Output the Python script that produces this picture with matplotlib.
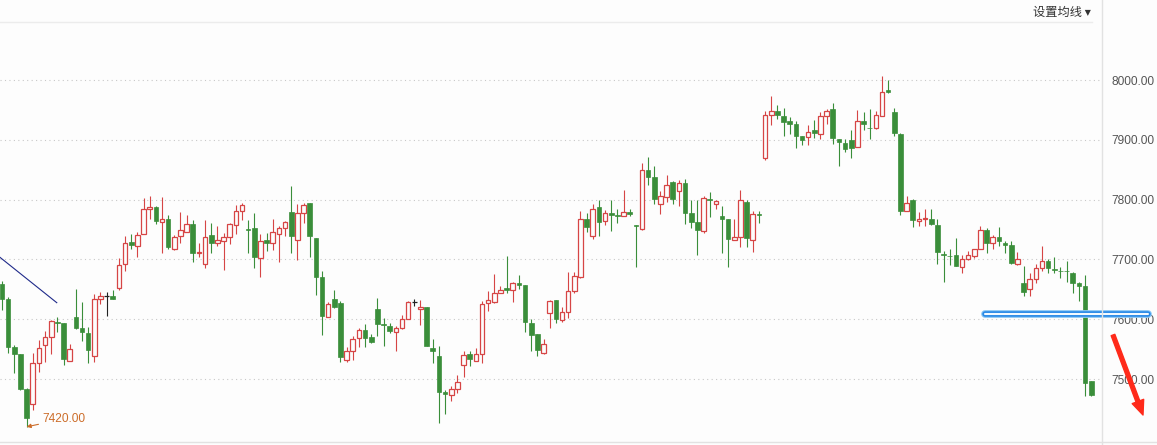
import matplotlib
matplotlib.use('Agg')
import matplotlib.pyplot as plt
from matplotlib.lines import Line2D

# daily OHLC
opens = [7659, 7634, 7553, 7541, 7484, 7459, 7527, 7557, 7570, 7596,
         7593, 7530, 7604, 7586, 7577, 7538, 7633, 7638, 7639, 7653,
         7692, 7729, 7723, 7742, 7785, 7788, 7763, 7768, 7718, 7739,
         7746, 7760, 7711, 7692, 7741, 7727, 7731, 7737, 7758, 7781,
         7751, 7752, 7703, 7732, 7728, 7742, 7753, 7780, 7732, 7778,
         7794, 7735, 7670, 7603, 7634, 7627, 7531, 7547, 7569, 7582,
         7571, 7617, 7592, 7589, 7579, 7586, 7601, 7628, 7617, 7620,
         7552, 7539, 7478, 7473, 7484, 7523, 7542, 7530, 7542, 7627,
         7629, 7643, 7652, 7648, 7660, 7657, 7593, 7576, 7544, 7610,
         7632, 7598, 7612, 7647, 7671, 7768, 7739, 7788, 7764, 7777,
         7774, 7773, 7779, 7757, 7751, 7850, 7837, 7793, 7804, 7829,
         7814, 7828, 7777, 7762, 7748, 7801, 7793, 7773, 7768, 7733,
         7737, 7796, 7733, 7776, 7869, 7942, 7949, 7939, 7931, 7926,
         7906, 7905, 7917, 7910, 7940, 7951, 7902, 7895, 7900, 7888,
         7931, 7920, 7919, 7940, 7983, 7947, 7909, 7781, 7800, 7764,
         7768, 7767, 7757, 7709, 7706, 7707, 7688, 7700, 7706, 7718,
         7750, 7727, 7737, 7728, 7724, 7693, 7660, 7650, 7668, 7685,
         7697, 7684, 7681, 7681, 7678, 7661, 7656, 7496]
highs = [7664, 7637, 7557, 7542, 7485, 7543, 7566, 7581, 7599, 7604,
         7594, 7559, 7651, 7629, 7587, 7642, 7646, 7645, 7649, 7703,
         7739, 7743, 7746, 7802, 7806, 7789, 7804, 7774, 7741, 7780,
         7774, 7766, 7728, 7766, 7761, 7756, 7744, 7761, 7791, 7795,
         7766, 7778, 7743, 7744, 7768, 7756, 7764, 7822, 7793, 7795,
         7795, 7735, 7681, 7629, 7649, 7631, 7554, 7572, 7586, 7592,
         7576, 7636, 7602, 7593, 7588, 7607, 7631, 7633, 7632, 7620,
         7567, 7556, 7481, 7488, 7507, 7546, 7546, 7552, 7631, 7647,
         7676, 7656, 7706, 7663, 7674, 7657, 7600, 7576, 7567, 7632,
         7632, 7620, 7679, 7679, 7781, 7777, 7793, 7800, 7783, 7799,
         7785, 7816, 7785, 7758, 7861, 7872, 7856, 7814, 7841, 7831,
         7832, 7834, 7800, 7799, 7806, 7812, 7799, 7789, 7768, 7768,
         7816, 7799, 7781, 7781, 7948, 7974, 7958, 7954, 7938, 7931,
         7906, 7924, 7933, 7946, 7952, 7962, 7902, 7902, 7916, 7950,
         7946, 7951, 7948, 8006, 8000, 7954, 7911, 7806, 7801, 7779,
         7785, 7785, 7768, 7714, 7717, 7735, 7707, 7714, 7718, 7756,
         7752, 7741, 7754, 7731, 7731, 7712, 7689, 7678, 7693, 7722,
         7700, 7704, 7688, 7698, 7679, 7663, 7674, 7497]
lows = [7616, 7543, 7510, 7481, 7420, 7448, 7511, 7529, 7541, 7578,
        7523, 7530, 7584, 7563, 7526, 7529, 7626, 7606, 7633, 7649,
        7681, 7718, 7704, 7742, 7768, 7760, 7710, 7718, 7716, 7727,
        7746, 7695, 7704, 7686, 7710, 7722, 7682, 7726, 7743, 7766,
        7711, 7686, 7671, 7714, 7716, 7695, 7739, 7711, 7699, 7761,
        7704, 7641, 7573, 7603, 7618, 7528, 7528, 7532, 7553, 7554,
        7560, 7572, 7556, 7577, 7546, 7584, 7601, 7622, 7591, 7556,
        7527, 7427, 7442, 7463, 7476, 7504, 7521, 7530, 7527, 7614,
        7627, 7643, 7644, 7629, 7651, 7579, 7546, 7539, 7542, 7586,
        7594, 7596, 7602, 7643, 7669, 7746, 7734, 7739, 7757, 7748,
        7761, 7773, 7773, 7688, 7749, 7824, 7793, 7776, 7796, 7792,
        7789, 7760, 7752, 7707, 7744, 7771, 7785, 7710, 7688, 7733,
        7720, 7721, 7713, 7761, 7867, 7925, 7935, 7907, 7909, 7886,
        7891, 7892, 7903, 7901, 7926, 7893, 7856, 7879, 7870, 7888,
        7916, 7901, 7918, 7940, 7979, 7906, 7775, 7781, 7754, 7756,
        7756, 7757, 7692, 7663, 7691, 7689, 7678, 7699, 7703, 7717,
        7711, 7717, 7723, 7710, 7692, 7691, 7638, 7638, 7661, 7681,
        7678, 7678, 7669, 7663, 7643, 7631, 7471, 7472]
closes = [7634, 7553, 7541, 7484, 7434, 7527, 7552, 7570, 7597, 7594,
          7533, 7550, 7586, 7578, 7548, 7633, 7639, 7638, 7633, 7691,
          7727, 7724, 7740, 7785, 7788, 7764, 7768, 7721, 7738, 7749,
          7760, 7711, 7712, 7738, 7728, 7733, 7738, 7759, 7781, 7791,
          7750, 7704, 7731, 7728, 7745, 7753, 7762, 7739, 7778, 7791,
          7739, 7671, 7606, 7625, 7621, 7536, 7547, 7567, 7582, 7568,
          7562, 7592, 7591, 7581, 7585, 7600, 7628, 7628, 7620, 7556,
          7546, 7479, 7475, 7484, 7495, 7540, 7534, 7542, 7625, 7632,
          7643, 7649, 7649, 7660, 7658, 7596, 7574, 7548, 7558, 7631,
          7601, 7612, 7647, 7672, 7768, 7754, 7785, 7763, 7777, 7774,
          7773, 7780, 7776, 7756, 7850, 7838, 7801, 7806, 7825, 7801,
          7828, 7778, 7763, 7750, 7802, 7800, 7797, 7768, 7734, 7737,
          7799, 7736, 7776, 7775, 7941, 7949, 7941, 7929, 7926, 7906,
          7899, 7913, 7911, 7940, 7948, 7903, 7896, 7884, 7887, 7931,
          7926, 7919, 7941, 7980, 7980, 7911, 7781, 7795, 7766, 7768,
          7769, 7759, 7713, 7708, 7705, 7689, 7700, 7708, 7717, 7750,
          7728, 7737, 7731, 7724, 7694, 7701, 7645, 7667, 7685, 7697,
          7685, 7683, 7680, 7680, 7661, 7656, 7493, 7474]

price_ticks = [7500, 7600, 7700, 7800, 7900, 8000]
low_index = 4
low_value = 7420
trend_x = [-0.33, 8.9]
trend_y = [7703.5, 7627.6]
support_x = [159.7, 186.2]
support_level = 7608

RED = '#d64545'
GREEN = '#3a8e3a'
BG = '#fdfdfd'

plt.rcParams['font.family'] = ['Liberation Sans', 'Noto Sans CJK SC', 'DejaVu Sans']

fig = plt.figure(figsize=(11.57, 4.45), dpi=100)
fig.patch.set_facecolor(BG)
ax = fig.add_axes([0, 3 / 445, 1102 / 1157, 420 / 445])
ax.set_facecolor(BG)
ax.set_xlim(-0.325, 178.75)
ax.set_ylim(7394.65, 8097.0)
for s in ax.spines.values():
    s.set_visible(False)
ax.set_xticks([])
ax.yaxis.tick_right()
ax.set_yticks(price_ticks)
ax.set_yticklabels(['{:.2f}'.format(v) for v in price_ticks])
ax.tick_params(axis='y', length=0, pad=6.5, labelsize=8.6, labelcolor='#555555')
ax.grid(axis='y', color='#c8c8c8', linestyle=(0, (1, 3)), linewidth=0.8)
ax.set_axisbelow(True)

w = 0.75
for i in range(len(opens)):
    o, h, l, c = opens[i], highs[i], lows[i], closes[i]
    if c > o:
        ax.vlines(i, c, h, color=RED, lw=0.8, zorder=2)
        ax.vlines(i, l, o, color=RED, lw=0.8, zorder=2)
        ax.bar(i, max(c - o, 1), bottom=o, width=w, facecolor=BG,
               edgecolor=RED, linewidth=0.9, zorder=3)
    elif c < o:
        ax.vlines(i, l, h, color=GREEN, lw=0.8, zorder=2)
        ax.bar(i, max(o - c, 1), bottom=c, width=w, facecolor=GREEN,
               edgecolor=GREEN, linewidth=0.5, zorder=3)
    else:
        ax.vlines(i, l, h, color='#222222', lw=0.8, zorder=2)
        ax.hlines(o, i - w / 2, i + w / 2, color='#222222', lw=0.9, zorder=3)

# trend line drawn on the chart
ax.plot(trend_x, trend_y, color='#1f2a8a', lw=0.8, zorder=4)

# highlighted support level
ax.plot(support_x, [support_level] * 2, color='#8cc8f5', lw=5.6,
        solid_capstyle='round', clip_on=False, zorder=5)
ax.plot(support_x, [support_level] * 2, color='#2a8ae6', lw=4.0,
        solid_capstyle='round', clip_on=False, zorder=6)
ax.plot(support_x, [support_level] * 2, color='#f4faff', lw=1.5,
        solid_capstyle='round', clip_on=False, zorder=7)

# lowest price label
ax.annotate('{:.2f}'.format(low_value), xy=(low_index, low_value),
            xytext=(16, 8), textcoords='offset pixels', fontsize=8.6,
            color='#cc6d2a', va='center', ha='left',
            arrowprops=dict(arrowstyle='-|>', color='#cc6d2a', lw=0.8,
                            shrinkA=1, shrinkB=0, mutation_scale=6))

# red down arrow at the right
ax.annotate('', xy=(1143, 30), xytext=(1113, 110), xycoords='figure pixels',
            textcoords='figure pixels',
            arrowprops=dict(arrowstyle='simple,head_length=1.3,head_width=1.1,tail_width=0.35',
                            color='#ff2a1a', mutation_scale=8, shrinkA=0, shrinkB=0))

# frame lines
fig.add_artist(Line2D([1102 / 1157] * 2, [0, 1], color='#e2e2e2', lw=1))
fig.add_artist(Line2D([0, 1], [3 / 445] * 2, color='#e2e2e2', lw=1))
fig.add_artist(Line2D([0, 1092 / 1157], [423 / 445] * 2, color='#ececec', lw=1))

fig.text(1033 / 1157, 1 - 12 / 445, '设置均线 ▾', va='center', ha='left',
         fontsize=8.8, color='#333333', family=['Noto Sans CJK SC', 'DejaVu Sans'])

fig.savefig('out.png', dpi=100, facecolor=BG)
